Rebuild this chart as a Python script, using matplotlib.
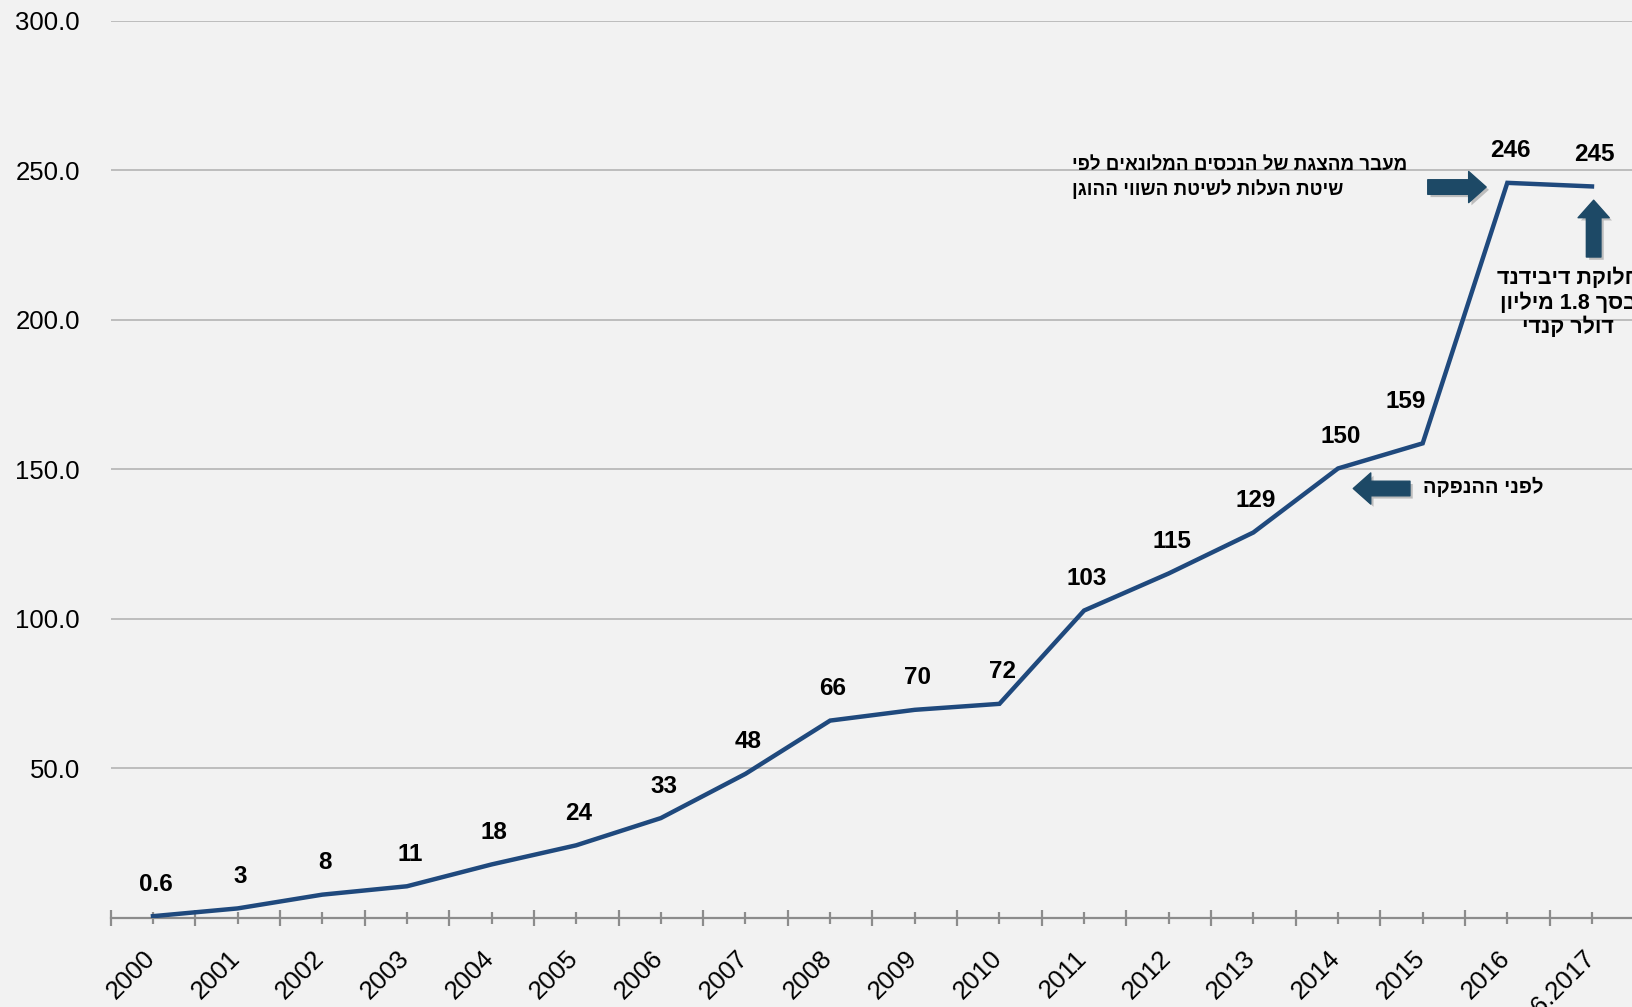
import matplotlib
matplotlib.use("Agg")
import matplotlib.pyplot as plt
import matplotlib.patheffects as pe
from matplotlib.transforms import ScaledTranslation
import numpy as np

plt.rcParams['font.family'] = ['Liberation Sans', 'DejaVu Sans']

# %%
# data
years = ['2000', '2001', '2002', '2003', '2004', '2005', '2006', '2007', '2008',
         '2009', '2010', '2011', '2012', '2013', '2014', '2015', '2016', '1-6.2017']
values = [0.6, 3.2, 7.8, 10.6, 17.9, 24.3, 33.4, 48.2, 66.0,
          69.6, 71.6, 102.8, 115.2, 128.9, 150.3, 158.7, 245.8, 244.6]
value_labels = ['0.6', '3', '8', '11', '18', '24', '33', '48', '66',
                '70', '72', '103', '115', '129', '150', '159', '246', '245']

note_fair_value = 'מעבר מהצגת של הנכסים המלונאים לפי\nשיטת העלות לשיטת השווי ההוגן'
note_dividend = 'חלוקת דיבידנד\nבסך 1.8 מיליון\nדולר קנדי'
note_ipo = 'לפני ההנפקה'


# matplotlib has no bidi support, so flip hebrew lines into visual order
def visual(text):
    lines = []
    for line in text.split('\n'):
        words = line.split(' ')[::-1]
        words = [w if any(c.isdigit() for c in w) else w[::-1] for w in words]
        lines.append(' '.join(words))
    return '\n'.join(lines)


BG = '#f2f2f2'
LINE_COLOR = '#1f497d'
ARROW_COLOR = '#1d4966'

fig = plt.figure(figsize=(16.32, 10.07), dpi=100, facecolor=BG)
ax = fig.add_axes([0.0678, 0.0884, 0.9336, 0.891])
ax.set_facecolor(BG)

x = np.arange(len(years))
ax.plot(x, values, color=LINE_COLOR, linewidth=3.2, solid_joinstyle='miter', zorder=3)

# value labels above the points
for i, (v, lab) in enumerate(zip(values, value_labels)):
    dx, dy = 2, 23
    if lab == '159':
        dx, dy = -12, 30
    ax.annotate(lab, (i, v), xytext=(dx, dy), textcoords='offset points',
                ha='center', va='center', fontsize=17.5, fontweight='bold', color='black')

# axes, grid, ticks
ax.set_xlim(-0.5, len(years) - 0.5)
ax.set_ylim(0, 300)
ax.set_yticks(np.arange(50, 301, 50))
ax.set_yticklabels([f'{t:.1f}' for t in np.arange(50, 301, 50)], fontsize=18.5)
ax.yaxis.grid(True, color='#bdbdbd', linewidth=1.4)
ax.set_axisbelow(True)
ax.tick_params(axis='y', length=0, pad=22)

for s in ['left', 'right', 'top']:
    ax.spines[s].set_visible(False)
ax.spines['bottom'].set_color('#8c8c8c')
ax.spines['bottom'].set_linewidth(1.6)

ax.set_xticks(x)
ax.set_xticklabels(years, rotation=45, ha='right', rotation_mode='anchor', fontsize=18.5)
ax.set_xticks(np.arange(-0.5, len(years), 1.0), minor=True)
ax.tick_params(axis='x', which='major', direction='inout', length=8.5, width=1.6,
               color='#8c8c8c', pad=16)
ax.tick_params(axis='x', which='minor', direction='inout', length=11.5, width=1.6,
               color='#8c8c8c')
# nudge the rotated labels a bit to the left
shift = ScaledTranslation(-0.1, 0, fig.dpi_scale_trans)
for lbl in ax.get_xticklabels():
    lbl.set_transform(lbl.get_transform() + shift)

# block arrows
shadow = [pe.SimplePatchShadow(offset=(2, -2), shadow_rgbFace='#9a9a9a', alpha=0.6), pe.Normal()]
arrow_style = 'simple,head_length=0.9,head_width=1.6,tail_width=0.75'
for start, end in [((15.06, 244.4), (15.75, 244.4)),
                   ((17.02, 221.0), (17.02, 240.0)),
                   ((14.85, 143.6), (14.18, 143.6))]:
    arr = ax.annotate('', xy=end, xytext=start,
                      arrowprops=dict(arrowstyle=arrow_style, color=ARROW_COLOR,
                                      mutation_scale=14, shrinkA=0, shrinkB=0))
    arr.arrow_patch.set_path_effects(shadow)

# notes
ax.text(10.86, 254.5, visual(note_fair_value), ha='left', va='top', fontsize=13.5,
        fontweight='bold', linespacing=1.35, clip_on=False)
ax.text(16.72, 217.5, visual(note_dividend), ha='center', va='top', fontsize=15.5,
        fontweight='bold', linespacing=1.2, multialignment='center', clip_on=False)
ax.text(15.0, 144.0, visual(note_ipo), ha='left', va='center', fontsize=14.5,
        fontweight='bold')

fig.savefig('out.png', dpi=100, facecolor=BG)
